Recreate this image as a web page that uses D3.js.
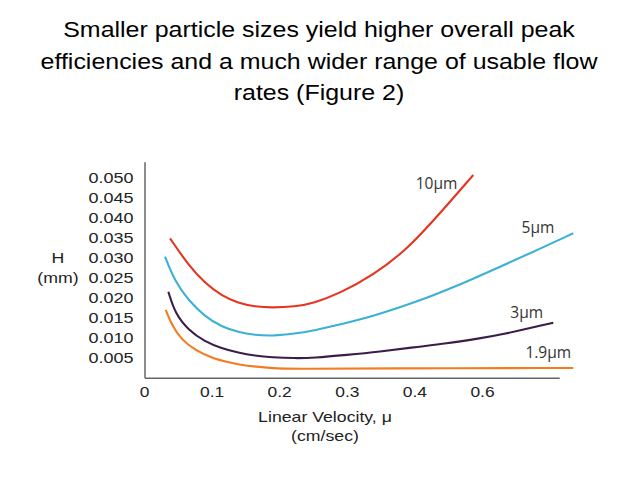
<!DOCTYPE html>
<html><head><meta charset="utf-8">
<script src="https://cdn.jsdelivr.net/npm/d3@7"></script>
<style>body{margin:0;background:#fff}</style>
</head><body>
<svg id="c" width="638" height="478"></svg>
<script>
const titleLines = ["Smaller particle sizes yield higher overall peak",
  "efficiencies and a much wider range of usable flow",
  "rates (Figure 2)"];
const yTicks = [0.005,0.010,0.015,0.020,0.025,0.030,0.035,0.040,0.045,0.050];
const xTickValues = [0,0.1,0.2,0.3,0.4,0.5];
const xTickLabels = ["0","0.1","0.2","0.3","0.4","0.6"];
const seriesNames = ["10µm","5µm","3µm","1.9µm"];
const seriesColors = ["#e5341f","#3bb1d5","#3a1e48","#f37b22"];
const s10 = [[0.0385,0.035],[0.0655,0.02833],[0.0902,0.02375],[0.1149,0.02065],[0.1395,0.01875],[0.1642,0.0179],[0.1889,0.01765],[0.2234,0.0179],[0.2504,0.01875],[0.29,0.02125],[0.3392,0.02583],[0.3886,0.03208],[0.4379,0.04125],[0.4871,0.05083]];
const s5 = [[0.0311,0.0304],[0.0459,0.02415],[0.0655,0.01958],[0.0902,0.0154],[0.1149,0.0129],[0.1395,0.0115],[0.1642,0.01083],[0.1889,0.01058],[0.2234,0.01115],[0.2504,0.0119],[0.2751,0.0129],[0.3244,0.01483],[0.3738,0.0175],[0.4231,0.0204],[0.4723,0.02375],[0.5217,0.0275],[0.571,0.03125],[0.635,0.03625]];
const s3 = [[0.036,0.02165],[0.0459,0.01625],[0.0655,0.01208],[0.0902,0.00915],[0.1149,0.0075],[0.1395,0.0064],[0.1642,0.00565],[0.1889,0.00525],[0.2234,0.005],[0.2504,0.0051],[0.2999,0.00583],[0.3491,0.00665],[0.3984,0.00775],[0.4478,0.0087],[0.497,0.01],[0.5266,0.0108],[0.6055,0.0139]];
const s19 = [[0.0321,0.01708],[0.041,0.01333],[0.0558,0.00958],[0.0754,0.00708],[0.1001,0.005],[0.1395,0.00333],[0.1889,0.0025],[0.2234,0.00233],[0.3491,0.0025],[0.635,0.00258]];
const seriesData = [s10,s5,s3,s19];
const labelPos = [[0.4327,0.04733],[0.5828,0.0364],[0.5661,0.015],[0.5981,0.005]];

const svg = d3.select("#c");
const x = d3.scaleLinear().domain([0,0.5]).range([144,482]);
const y = d3.scaleLinear().domain([0,0.05]).range([378.3,178.3]);
const xMax = 0.615, yMax = 0.054;

function stretch(sel, k){
  sel.each(function(){
    const w = this.getComputedTextLength();
    this.setAttribute("textLength", w*k);
    this.setAttribute("lengthAdjust","spacingAndGlyphs");
  });
}
const axisFont = "Liberation Sans, Arial, sans-serif";

svg.append("g").selectAll("text").data(titleLines).join("text")
  .attr("x",319).attr("y",(d,i)=>37+i*31.5).attr("text-anchor","middle")
  .attr("font-family",axisFont).attr("font-size",21.5).attr("fill","#000").text(d=>d)
  .call(stretch,1.16);

const yAxis = d3.axisLeft(y).tickValues(yTicks).tickFormat(d3.format(".3f")).tickSize(0).tickPadding(11.5);
const gy = svg.append("g").attr("transform",`translate(${x(0)+1},0)`).call(yAxis);
gy.select(".domain").remove();
gy.selectAll("text").attr("font-family",axisFont).attr("font-size",14.5).attr("fill","#222").call(stretch,1.24);
svg.append("line").attr("x1",x(0)+1).attr("x2",x(0)+1).attr("y1",y(yMax)).attr("y2",y(0)).attr("stroke","#666").attr("stroke-width",1.5);
svg.append("line").attr("x1",x(0)+1).attr("x2",x(xMax)).attr("y1",y(0)).attr("y2",y(0)).attr("stroke","#666").attr("stroke-width",1.5);

const xAxis = d3.axisBottom(x).tickValues(xTickValues).tickFormat((d,i)=>xTickLabels[i]).tickSize(0).tickPadding(8);
const gx = svg.append("g").attr("transform",`translate(0,${y(0)})`).call(xAxis);
gx.select(".domain").remove();
gx.selectAll("text").attr("font-family",axisFont).attr("font-size",14.5).attr("fill","#222").call(stretch,1.2);

const axTitles = [["H",58,263],["(mm)",58,283],["Linear Velocity, μ",325,422],["(cm/sec)",325,441]];
svg.append("g").selectAll("text").data(axTitles).join("text")
  .attr("x",d=>d[1]).attr("y",d=>d[2]).attr("text-anchor","middle")
  .attr("font-family",axisFont).attr("font-size",14.5).attr("fill","#222").text(d=>d[0])
  .call(stretch,1.22);

const line = d3.line().x(d=>x(d[0])).y(d=>y(d[1])).curve(d3.curveBasis);
svg.append("g").selectAll("path").data(seriesData).join("path")
  .attr("d",line).attr("fill","none").attr("stroke",(d,i)=>seriesColors[i]).attr("stroke-width",2.1);

svg.append("g").selectAll("text").data(seriesNames).join("text")
  .attr("x",(d,i)=>x(labelPos[i][0])).attr("y",(d,i)=>y(labelPos[i][1]))
  .attr("text-anchor","middle").attr("font-family","Open Sans, sans-serif").attr("font-size",15.5).attr("fill","#333").text(d=>d);
</script>
</body></html>
